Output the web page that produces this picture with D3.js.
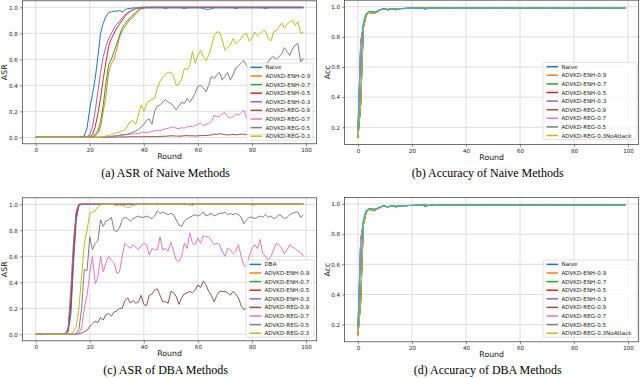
<!DOCTYPE html>
<html>
<head>
<meta charset="utf-8">
<script src="https://cdn.jsdelivr.net/npm/d3@7"></script>
<style>
  body { margin: 0; background: #fff; }
  .ax text, .ax { font-family: "DejaVu Sans", sans-serif; }
  .caption { font-family: "Liberation Serif", "Times New Roman", serif; }
</style>
</head>
<body>
<div id="chart"></div>
<script>
// ---- data (100 rounds each) ----
var xTicks = [0, 20, 40, 60, 80, 100];
var asrTicks = [0.0, 0.2, 0.4, 0.6, 0.8, 1.0];
var accTicks = [0.2, 0.4, 0.6, 0.8, 1.0];

var advLabels = ["ADVKD-ENH-0.9", "ADVKD-ENH-0.7", "ADVKD-ENH-0.5", "ADVKD-ENH-0.3",
                 "ADVKD-REG-0.9", "ADVKD-REG-0.7", "ADVKD-REG-0.5", "ADVKD-REG-0.3"];
var colors = ["#1f77b4", "#ff7f0e", "#2ca02c", "#d62728", "#9467bd",
              "#8c564b", "#e377c2", "#7f7f7f", "#bcbd22", "#17becf"];

// (a) ASR of Naive methods
var naiveA = [0,0,0,0,0,0,0,0,0,0,
  0,0,0,0,0,0,0,0.005,0.01,0.07,
  0.22,0.33,0.45,0.62,0.8,0.88,0.93,0.96,0.965,0.97,
  0.97,0.975,0.965,0.98,0.99,0.99,0.995,0.995,0.995,0.995,
  0.995,0.995,0.995,0.995,0.995,0.995,0.995,0.995,0.99,0.995,
  0.995,0.995,0.995,0.995,0.995,0.99,0.995,0.995,0.995,0.995,
  0.995,0.995,0.99,0.985,0.985,0.99,0.995,0.995,0.995,0.995,
  0.995,0.995,0.995,0.995,0.99,0.995,0.995,0.995,0.995,0.995,
  0.995,0.995,0.995,0.995,0.995,0.99,0.995,0.995,0.995,0.995,
  0.995,0.995,0.995,0.995,0.995,0.995,0.995,0.995,0.995,0.995];
var enh09A = [0,0,0,0,0,0,0,0,0,0,
  0,0,0,0,0,0,0,0,0,0,
  0,0.003,0.01,0.03,0.08,0.2,0.32,0.5,0.57,0.6,
  0.68,0.77,0.82,0.85,0.88,0.91,0.92,0.95,0.97,0.99,
  0.995,1,1,1,1,1,1,1,1,1,
  1,1,1,1,1,1,1,1,1,1,
  1,1,1,1,1,1,1,1,1,1,
  1,1,1,1,1,1,1,1,1,1,
  1,1,1,1,1,1,1,1,1,1,
  1,1,1,1,1,1,1,1,1,1];
var enh07A = [0,0,0,0,0,0,0,0,0,0,
  0,0,0,0,0,0,0,0,0,0,
  0.002,0.005,0.02,0.05,0.12,0.25,0.42,0.56,0.6,0.66,
  0.72,0.78,0.84,0.87,0.9,0.92,0.94,0.96,0.98,0.99,
  0.995,1,1,1,1,1,1,1,1,1,
  1,1,1,1,1,1,1,1,1,1,
  1,1,1,1,1,1,1,1,1,1,
  1,1,1,1,1,1,1,1,1,1,
  1,1,1,1,1,1,1,1,1,1,
  1,1,1,1,1,1,1,1,1,1];
var enh05A = [0,0,0,0,0,0,0,0,0,0,
  0,0,0,0,0,0,0,0,0,0,
  0.005,0.02,0.08,0.18,0.3,0.45,0.58,0.7,0.76,0.8,
  0.84,0.87,0.9,0.93,0.95,0.97,0.98,0.99,0.995,1,
  1,1,1,1,1,1,1,1,1,1,
  1,1,1,1,1,1,1,1,1,1,
  1,1,1,1,1,1,1,1,1,1,
  1,1,1,1,1,1,1,1,1,1,
  1,1,1,1,1,1,1,1,1,1,
  1,1,1,1,1,1,1,1,1,1];
var enh03A = [0,0,0,0,0,0,0,0,0,0,
  0,0,0,0,0,0,0,0,0,0.005,
  0.02,0.08,0.2,0.35,0.5,0.62,0.7,0.76,0.8,0.84,
  0.87,0.89,0.92,0.94,0.96,0.97,0.98,0.99,0.995,1,
  1,1,1,1,1,1,1,1,1,1,
  1,1,1,1,1,1,1,1,1,1,
  1,1,1,1,1,1,1,1,1,1,
  1,1,1,1,1,1,1,1,1,1,
  1,1,1,1,1,1,1,1,1,1,
  1,1,1,1,1,1,1,1,1,1];
var reg09A = [0,0,0,0,0,0,0,0,0,0,
  0,0,0,0,0,0,0,0,0,0,
  0,0,0,0,0,0.002,0.002,0.002,0.002,0.002,
  0.002,0.003,0.003,0.003,0.003,0.004,0.004,0.004,0.004,0.004,
  0.004,0.005,0.005,0.005,0.005,0.006,0.007,0.008,0.008,0.01,
  0.012,0.011,0.01,0.009,0.01,0.012,0.013,0.011,0.012,0.01,
  0.012,0.013,0.015,0.014,0.016,0.018,0.025,0.022,0.028,0.024,
  0.02,0.018,0.02,0.022,0.019,0.021,0.025,0.023,0.02,0.022,
  0.026,0.024,0.022,0.025,0.027,0.024,0.026,0.028,0.025,0.027,
  0.03,0.028,0.026,0.029,0.031,0.028,0.03,0.032,0.029,0.03];
var reg07A = [0,0,0,0,0,0,0,0,0,0,
  0,0,0,0,0,0,0,0,0,0,
  0,0,0,0,0,0.002,0.003,0.005,0.008,0.01,
  0.012,0.015,0.015,0.02,0.02,0.025,0.025,0.03,0.03,0.035,
  0.04,0.035,0.04,0.045,0.05,0.055,0.05,0.06,0.065,0.07,
  0.075,0.08,0.07,0.065,0.075,0.07,0.08,0.085,0.08,0.09,
  0.1,0.11,0.09,0.1,0.105,0.12,0.17,0.16,0.16,0.18,
  0.19,0.16,0.15,0.16,0.18,0.17,0.19,0.21,0.15,0.17,
  0.18,0.17,0.19,0.18,0.2,0.19,0.18,0.2,0.21,0.19,
  0.2,0.22,0.21,0.2,0.22,0.23,0.21,0.24,0.22,0.23];
var reg05A = [0,0,0,0,0,0,0,0,0,0,
  0,0,0,0,0,0,0,0,0,0,
  0,0,0,0,0,0,0,0,0.005,0.01,
  0.01,0.015,0.02,0.02,0.025,0.03,0.04,0.05,0.06,0.08,
  0.1,0.13,0.14,0.1,0.2,0.24,0.25,0.27,0.29,0.27,
  0.26,0.24,0.21,0.24,0.27,0.26,0.3,0.27,0.3,0.34,
  0.39,0.4,0.38,0.35,0.4,0.47,0.45,0.48,0.5,0.44,
  0.47,0.5,0.44,0.48,0.53,0.55,0.57,0.59,0.55,0.52,
  0.56,0.53,0.5,0.55,0.57,0.54,0.58,0.61,0.62,0.6,
  0.62,0.64,0.69,0.66,0.63,0.68,0.71,0.72,0.58,0.61];
var reg03A = [0,0,0,0,0,0,0,0,0,0,
  0,0,0,0,0,0,0,0,0,0,
  0,0,0,0,0,0.005,0.01,0.015,0.02,0.03,
  0.035,0.04,0.05,0.055,0.09,0.12,0.13,0.1,0.17,0.25,
  0.2,0.26,0.28,0.29,0.3,0.38,0.43,0.46,0.48,0.5,
  0.5,0.47,0.4,0.41,0.45,0.53,0.52,0.55,0.66,0.57,
  0.63,0.67,0.62,0.59,0.63,0.7,0.78,0.81,0.81,0.75,
  0.67,0.69,0.71,0.76,0.72,0.74,0.76,0.79,0.8,0.74,
  0.76,0.81,0.78,0.8,0.82,0.82,0.76,0.74,0.81,0.82,
  0.85,0.88,0.84,0.87,0.89,0.9,0.86,0.89,0.8,0.81];

// (c) ASR of DBA methods
var dbaC = [0,0,0.003,0,0,0,0,0,0,0,
  0,0.002,0.02,0.15,0.55,0.88,0.99,1,1,1,
  1,1,1,1,1,1,1,1,1,1,
  1,1,1,1,1,1,1,1,1,1,
  1,1,1,1,1,1,1,1,1,1,
  1,1,1,1,1,1,1,1,1,1,
  1,1,1,1,1,1,1,1,1,1,
  1,1,1,1,1,1,1,1,1,1,
  1,1,1,1,1,1,1,1,1,1,
  1,1,1,1,1,1,1,1,1,1];
var enh09C = [0,0,0,0,0,0,0,0,0,0,
  0,0.003,0.03,0.25,0.65,0.93,1,1,1,1,
  1,1,1,1,1,1,1,1,1,1,
  1,1,1,1,1,1,1,1,1,1,
  1,1,1,1,1,1,1,1,1,1,
  1,1,1,1,1,1,1,1,1,1,
  1,1,1,1,1,1,1,1,1,1,
  1,1,1,1,1,1,1,1,1,1,
  1,1,1,1,1,1,1,1,1,1,
  1,1,1,1,1,1,1,1,1,1];
var enh07C = [0,0,0,0,0,0,0,0,0,0,
  0,0.003,0.03,0.22,0.62,0.92,1,1,1,1,
  1,1,1,1,1,1,1,1,1,1,
  1,1,1,1,1,1,1,1,1,1,
  1,1,1,1,1,1,1,1,1,1,
  1,1,1,1,1,1,1,1,1,1,
  1,1,1,1,1,1,1,1,1,1,
  1,1,1,1,1,1,1,1,1,1,
  1,1,1,1,1,1,1,1,1,1,
  1,1,1,1,1,1,1,1,1,1];
var enh05C = [0,0,0,0,0,0,0,0,0,0,
  0,0.003,0.03,0.22,0.63,0.92,0.995,1,1,1,
  1,1,1,1,1,1,1,1,1,1,
  1,1,1,1,1,1,1,1,1,1,
  1,1,1,1,1,1,1,1,1,1,
  1,1,1,1,1,1,1,1,1,1,
  1,1,1,1,1,1,1,1,1,1,
  1,1,1,1,1,1,1,1,1,1,
  1,1,1,1,1,1,1,1,1,1,
  1,1,1,1,1,1,1,1,1,1];
var enh03C = [0,0,0,0,0,0,0,0,0,0,
  0,0.005,0.05,0.35,0.72,0.95,1,1,1,1,
  1,1,1,1,1,1,1,1,1,1,
  1,1,1,1,1,1,1,0.995,1,1,
  1,1,1,1,1,1,1,1,1,1,
  1,1,1,1,1,1,1,0.995,1,1,
  1,1,1,1,1,1,1,1,1,1,
  1,1,1,1,1,1,1,1,1,1,
  1,1,1,1,1,1,1,1,1,1,
  1,1,1,1,1,1,1,1,1,1];
var reg09C = [0,0,0,0,0,0,0,0,0,0,
  0,0,0,0,0,0,0.005,0.01,0.02,0.03,
  0.06,0.08,0.1,0.09,0.13,0.11,0.15,0.16,0.14,0.17,
  0.18,0.2,0.2,0.26,0.28,0.24,0.26,0.24,0.25,0.3,
  0.23,0.22,0.3,0.31,0.34,0.35,0.3,0.25,0.25,0.24,
  0.33,0.32,0.29,0.23,0.28,0.31,0.32,0.33,0.32,0.34,
  0.38,0.36,0.41,0.38,0.33,0.3,0.25,0.3,0.33,0.33,
  0.33,0.32,0.3,0.33,0.31,0.28,0.22,0.19,0.2,0.22,
  0.2,0.23,0.22,0.25,0.23,0.21,0.24,0.22,0.23,0.25,
  0.22,0.24,0.23,0.25,0.22,0.24,0.23,0.25,0.24,0.22];
var reg07C = [0,0,0,0,0,0,0,0,0,0,
  0,0,0,0,0,0,0.01,0.05,0.2,0.3,
  0.47,0.6,0.39,0.44,0.6,0.48,0.55,0.6,0.57,0.55,
  0.47,0.48,0.6,0.7,0.68,0.66,0.69,0.67,0.65,0.68,
  0.7,0.69,0.61,0.66,0.65,0.65,0.75,0.65,0.66,0.64,
  0.71,0.64,0.57,0.56,0.6,0.7,0.66,0.78,0.7,0.69,
  0.74,0.7,0.76,0.75,0.75,0.72,0.69,0.7,0.69,0.64,
  0.6,0.66,0.65,0.62,0.64,0.69,0.6,0.53,0.52,0.6,
  0.66,0.69,0.66,0.73,0.62,0.6,0.57,0.6,0.65,0.7,
  0.69,0.66,0.62,0.65,0.69,0.67,0.66,0.64,0.63,0.6];
var reg05C = [0,0,0,0,0,0,0,0,0,0,
  0,0,0,0,0,0.005,0.04,0.2,0.5,0.49,
  0.75,0.65,0.7,0.72,0.88,0.83,0.87,0.88,0.9,0.8,
  0.79,0.82,0.88,0.9,0.89,0.87,0.89,0.9,0.91,0.9,
  0.9,0.91,0.9,0.89,0.91,0.95,0.93,0.94,0.93,0.92,
  0.93,0.92,0.88,0.84,0.83,0.87,0.89,0.9,0.91,0.92,
  0.91,0.92,0.94,0.91,0.92,0.93,0.91,0.92,0.93,0.93,
  0.94,0.92,0.93,0.92,0.93,0.92,0.9,0.85,0.88,0.9,
  0.9,0.89,0.9,0.91,0.9,0.92,0.9,0.91,0.89,0.9,
  0.92,0.91,0.89,0.9,0.92,0.93,0.94,0.94,0.9,0.92];
var reg03C = [0,0,0.005,0,0,0,0,0,0,0,
  0,0,0,0.005,0.02,0.06,0.2,0.45,0.7,0.8,
  0.93,0.94,0.95,0.98,0.995,1,1,1,1,0.995,
  0.99,0.995,0.99,0.985,0.975,0.98,0.99,1,1,1,
  1,1,1,1,1,0.995,1,1,1,1,
  1,1,1,1,1,0.995,1,1,0.99,1,
  1,1,1,1,1,1,1,1,1,1,
  1,1,1,1,1,1,1,1,1,1,
  0.995,0.995,1,1,1,1,1,1,1,1,
  1,1,1,1,1,1,1,1,1,1];

// (b)/(d) test accuracy, all methods nearly overlap
var accNaive = [0.17,0.76,0.88,0.95,0.968,0.966,0.962,0.97,0.978,0.985,
  0.986,0.978,0.986,0.988,0.98,0.987,0.988,0.989,0.989,0.99,
  0.99,0.99,0.991,0.99,0.991,0.985,0.99,0.991,0.991,0.99,
  0.991,0.991,0.992,0.991,0.991,0.992,0.991,0.992,0.992,0.991,
  0.992,0.992,0.991,0.992,0.992,0.992,0.991,0.992,0.992,0.992,
  0.992,0.993,0.992,0.992,0.992,0.993,0.992,0.992,0.993,0.992,
  0.992,0.993,0.993,0.992,0.993,0.992,0.993,0.993,0.992,0.993,
  0.993,0.992,0.993,0.993,0.993,0.992,0.993,0.993,0.993,0.992,
  0.993,0.993,0.993,0.992,0.993,0.993,0.993,0.993,0.992,0.993,
  0.993,0.99,0.993,0.993,0.993,0.993,0.993,0.992,0.993,0.993];
var accAdv = [0.13,0.35,0.86,0.94,0.965,0.958,0.955,0.965,0.975,0.984,
  0.985,0.982,0.985,0.986,0.984,0.987,0.988,0.988,0.989,0.99,
  0.99,0.991,0.991,0.991,0.992,0.994,0.99,0.991,0.991,0.991,
  0.991,0.992,0.992,0.991,0.992,0.992,0.992,0.992,0.991,0.992,
  0.992,0.992,0.992,0.992,0.992,0.991,0.992,0.993,0.993,0.992,
  0.992,0.992,0.993,0.992,0.993,0.992,0.993,0.992,0.993,0.993,
  0.993,0.992,0.993,0.993,0.992,0.993,0.993,0.993,0.993,0.992,
  0.993,0.993,0.993,0.993,0.992,0.993,0.993,0.993,0.993,0.993,
  0.994,0.993,0.993,0.993,0.993,0.993,0.992,0.993,0.993,0.993,
  0.993,0.993,0.993,0.993,0.993,0.993,0.993,0.993,0.993,0.993];
var accNoAttack = [0.18,0.6,0.9,0.955,0.97,0.97,0.968,0.97,0.98,0.985,
  0.987,0.978,0.986,0.987,0.978,0.986,0.988,0.988,0.989,0.99,
  0.99,0.99,0.99,0.991,0.991,0.984,0.99,0.99,0.991,0.991,
  0.991,0.991,0.991,0.992,0.991,0.991,0.992,0.991,0.992,0.992,
  0.991,0.992,0.992,0.991,0.992,0.992,0.992,0.991,0.992,0.992,
  0.992,0.992,0.991,0.992,0.992,0.992,0.992,0.992,0.991,0.992,
  0.992,0.992,0.992,0.991,0.992,0.992,0.992,0.992,0.992,0.992,
  0.992,0.991,0.992,0.992,0.992,0.992,0.992,0.992,0.991,0.992,
  0.992,0.992,0.992,0.992,0.992,0.992,0.992,0.992,0.992,0.992,
  0.992,0.99,0.992,0.992,0.992,0.992,0.992,0.992,0.992,0.992];

var rounds = d3.range(100);

// ---- drawing ----
var svg = d3.select("#chart").append("svg")
  .attr("width", 640).attr("height", 378);

function drawPanel(p, idx) {
  var x = d3.scaleLinear().domain([-4.95, 103.95]).range([p.left, p.right]);
  var y = d3.scaleLinear().domain(p.yDomain).range([p.bottom, p.top]);
  var g = svg.append("g").attr("class", "ax");

  // grid
  g.append("g").selectAll("line").data(xTicks).join("line")
    .attr("x1", d => x(d)).attr("x2", d => x(d))
    .attr("y1", p.top).attr("y2", p.bottom)
    .attr("stroke", "#d6d6d6").attr("stroke-width", 0.8);
  g.append("g").selectAll("line").data(p.yTicks).join("line")
    .attr("y1", d => y(d)).attr("y2", d => y(d))
    .attr("x1", p.left).attr("x2", p.right)
    .attr("stroke", "#d6d6d6").attr("stroke-width", 0.8);

  // axes
  var xa = g.append("g").attr("transform", "translate(0," + p.bottom + ")")
    .call(d3.axisBottom(x).tickValues(xTicks).tickSize(2.5).tickPadding(2).tickSizeOuter(0));
  var ya = g.append("g").attr("transform", "translate(" + p.left + ",0)")
    .call(d3.axisLeft(y).tickValues(p.yTicks).tickFormat(d3.format(".1f")).tickSize(2.5).tickPadding(2).tickSizeOuter(0));
  [xa, ya].forEach(function(a) {
    a.attr("font-family", null);
    a.select(".domain").remove();
    a.selectAll("line").attr("stroke", "#444").attr("stroke-width", 0.6);
    a.selectAll("text").attr("font-size", 5.6).attr("fill", "#222");
  });

  // lines, clipped to the frame
  var clipId = "clip" + idx;
  svg.append("clipPath").attr("id", clipId).append("rect")
    .attr("x", p.left).attr("y", p.top)
    .attr("width", p.right - p.left).attr("height", p.bottom - p.top);
  var line = d3.line().x((d, i) => x(rounds[i])).y(d => y(d));
  g.append("g").attr("clip-path", "url(#" + clipId + ")")
    .selectAll("path").data(p.series).join("path")
    .attr("d", s => line(s.values))
    .attr("fill", "none")
    .attr("stroke", s => s.color)
    .attr("stroke-width", 1)
    .attr("stroke-linejoin", "round");

  // frame
  g.append("rect")
    .attr("x", p.left).attr("y", p.top)
    .attr("width", p.right - p.left).attr("height", p.bottom - p.top)
    .attr("fill", "none").attr("stroke", "#333").attr("stroke-width", 0.7);

  // axis labels
  var cx = (p.left + p.right) / 2;
  g.append("text").attr("x", cx).attr("y", p.bottom + 15.5)
    .attr("text-anchor", "middle").attr("font-size", 7.8).attr("fill", "#111")
    .text("Round");
  g.append("text")
    .attr("transform", "translate(" + (p.left - 15) + "," + ((p.top + p.bottom) / 2) + ") rotate(-90)")
    .attr("text-anchor", "middle").attr("font-size", 7.8).attr("fill", "#111")
    .text(p.yLabel);

  // legend
  var lg = g.append("g");
  var entries = p.series.filter(s => s.label);
  lg.append("rect")
    .attr("x", p.legend.x).attr("y", p.legend.y)
    .attr("width", p.legend.w).attr("height", entries.length * 8.6 - 0.2)
    .attr("rx", 1.5)
    .attr("fill", "#fff").attr("fill-opacity", 0.8)
    .attr("stroke", "#ccc").attr("stroke-width", 0.6);
  var row = lg.selectAll("g").data(entries).join("g")
    .attr("transform", (d, i) => "translate(" + (p.legend.x + 3.5) + "," + (p.legend.y + 4.4 + i * 8.6) + ")");
  row.append("line").attr("x1", 0).attr("x2", 11.5).attr("y1", 0).attr("y2", 0)
    .attr("stroke", d => d.color).attr("stroke-width", 1.5);
  row.append("text").attr("x", 15).attr("y", 2)
    .attr("font-size", 5.6).attr("fill", "#222").text(d => d.label);

  // caption
  svg.append("text").attr("class", "caption")
    .attr("x", cx - 4).attr("y", p.captionY)
    .attr("text-anchor", "middle")
    .attr("font-size", 12).attr("fill", "#000")
    .text(p.caption);
}

function asrSeries(first, firstLabel, list) {
  var out = [{ label: firstLabel, values: first, color: colors[0] }];
  list.forEach(function(v, i) {
    out.push({ label: advLabels[i], values: v, color: colors[i + 1] });
  });
  return out;
}

function accSeries() {
  var vals = [accNaive, accAdv, accNaive, accAdv, accNaive, accAdv, accNaive, accAdv, accAdv];
  var labels = ["Naive"].concat(advLabels);
  labels[8] = "ADVKD-REG-0.3NoAttack";
  var out = vals.map(function(v, i) {
    return { label: labels[i], values: v, color: colors[i] };
  });
  out.push({ label: null, values: accNoAttack, color: colors[9] });
  return out;
}

var panels = [
  { left: 22.3, right: 316.7, top: 0.8, bottom: 143.8, yDomain: [-0.05, 1.05],
    yTicks: asrTicks, yLabel: "ASR", caption: "(a) ASR of Naive Methods", captionY: 177,
    legend: { x: 247, y: 63, w: 66 },
    series: asrSeries(naiveA, "Naive", [enh09A, enh07A, enh05A, enh03A, reg09A, reg07A, reg05A, reg03A]) },
  { left: 344.6, right: 638.7, top: 0.2, bottom: 144.4, yDomain: [0.0865, 1.0435],
    yTicks: accTicks, yLabel: "Acc", caption: "(b) Accuracy of Naive Methods", captionY: 177,
    legend: { x: 543, y: 62.3, w: 94 },
    series: accSeries() },
  { left: 22.3, right: 316.7, top: 197.8, bottom: 340.8, yDomain: [-0.05, 1.05],
    yTicks: asrTicks, yLabel: "ASR", caption: "(c) ASR of DBA Methods", captionY: 374,
    legend: { x: 246, y: 260, w: 68 },
    series: asrSeries(dbaC, "DBA", [enh09C, enh07C, enh05C, enh03C, reg09C, reg07C, reg05C, reg03C]) },
  { left: 344.6, right: 638.7, top: 197.4, bottom: 341.8, yDomain: [0.0865, 1.0435],
    yTicks: accTicks, yLabel: "Acc", caption: "(d) Accuracy of DBA Methods", captionY: 374,
    legend: { x: 543, y: 260, w: 94 },
    series: accSeries() }
];

panels.forEach(drawPanel);
</script>
</body>
</html>
